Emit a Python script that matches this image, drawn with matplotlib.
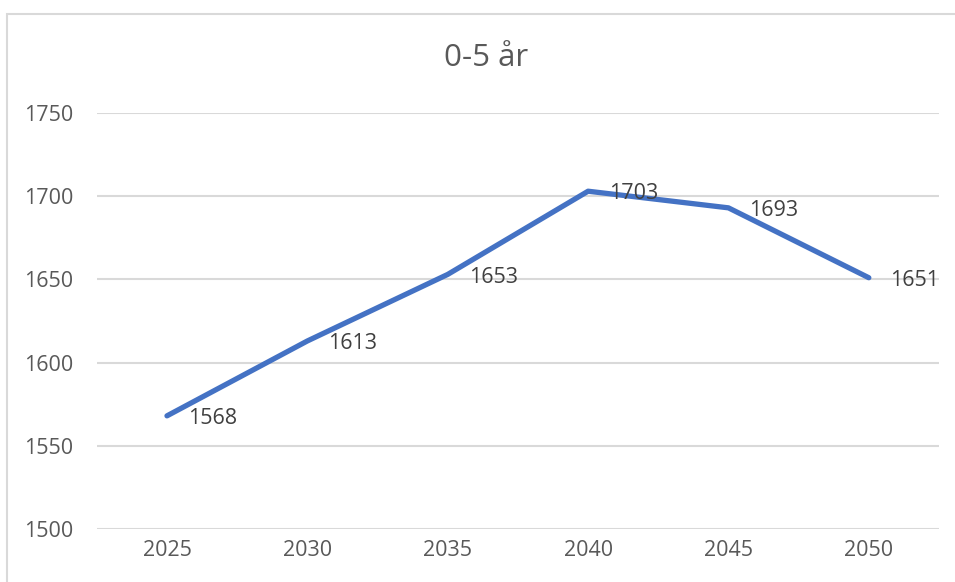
import matplotlib.pyplot as plt

years = ["2025", "2030", "2035", "2040", "2045", "2050"]
values = [1568, 1613, 1653, 1703, 1693, 1651]
yticks = [1500, 1550, 1600, 1650, 1700, 1750]

plt.rcParams['font.family'] = ['Open Sans', 'DejaVu Sans']
text_col = "#595959"

fig = plt.figure(figsize=(9.55, 5.82), dpi=100)
# outer chart border
fig.patches.append(plt.Rectangle((7 / 955, -0.01), 1.0, 1 - 14 / 582 + 0.01,
                                 transform=fig.transFigure, fill=False,
                                 edgecolor="#d9d9d9", linewidth=1.5))

ax = fig.add_axes([96.8 / 955, 1 - 529 / 582, (939 - 96.8) / 955, (529 - 113) / 582])
x = range(len(years))
ax.plot(x, values, color="#4472C4", linewidth=3.8, solid_capstyle="round")
for xi, v in zip(x, values):
    ax.annotate(str(v), (xi, v), xytext=(15, -2), textcoords="offset points",
                ha="left", va="center", fontsize=15.5, color="#404040")

ax.set_xlim(-0.5, len(years) - 0.5)
ax.set_ylim(1500, 1750)
ax.set_xticks(list(x))
ax.set_xticklabels(years)
ax.set_yticks(yticks)
ax.grid(axis="y", color="#d9d9d9", linewidth=1.5)
ax.set_axisbelow(True)
for s in ax.spines.values():
    s.set_visible(False)
ax.tick_params(length=0, labelsize=15.5, colors=text_col, pad=8)
ax.tick_params(axis="y", pad=17)

fig.text(486 / 955, 1 - 58 / 582, "0-5 år", ha="center", va="center",
         fontsize=22.5, color=text_col)

fig.savefig("out.png", dpi=100)
